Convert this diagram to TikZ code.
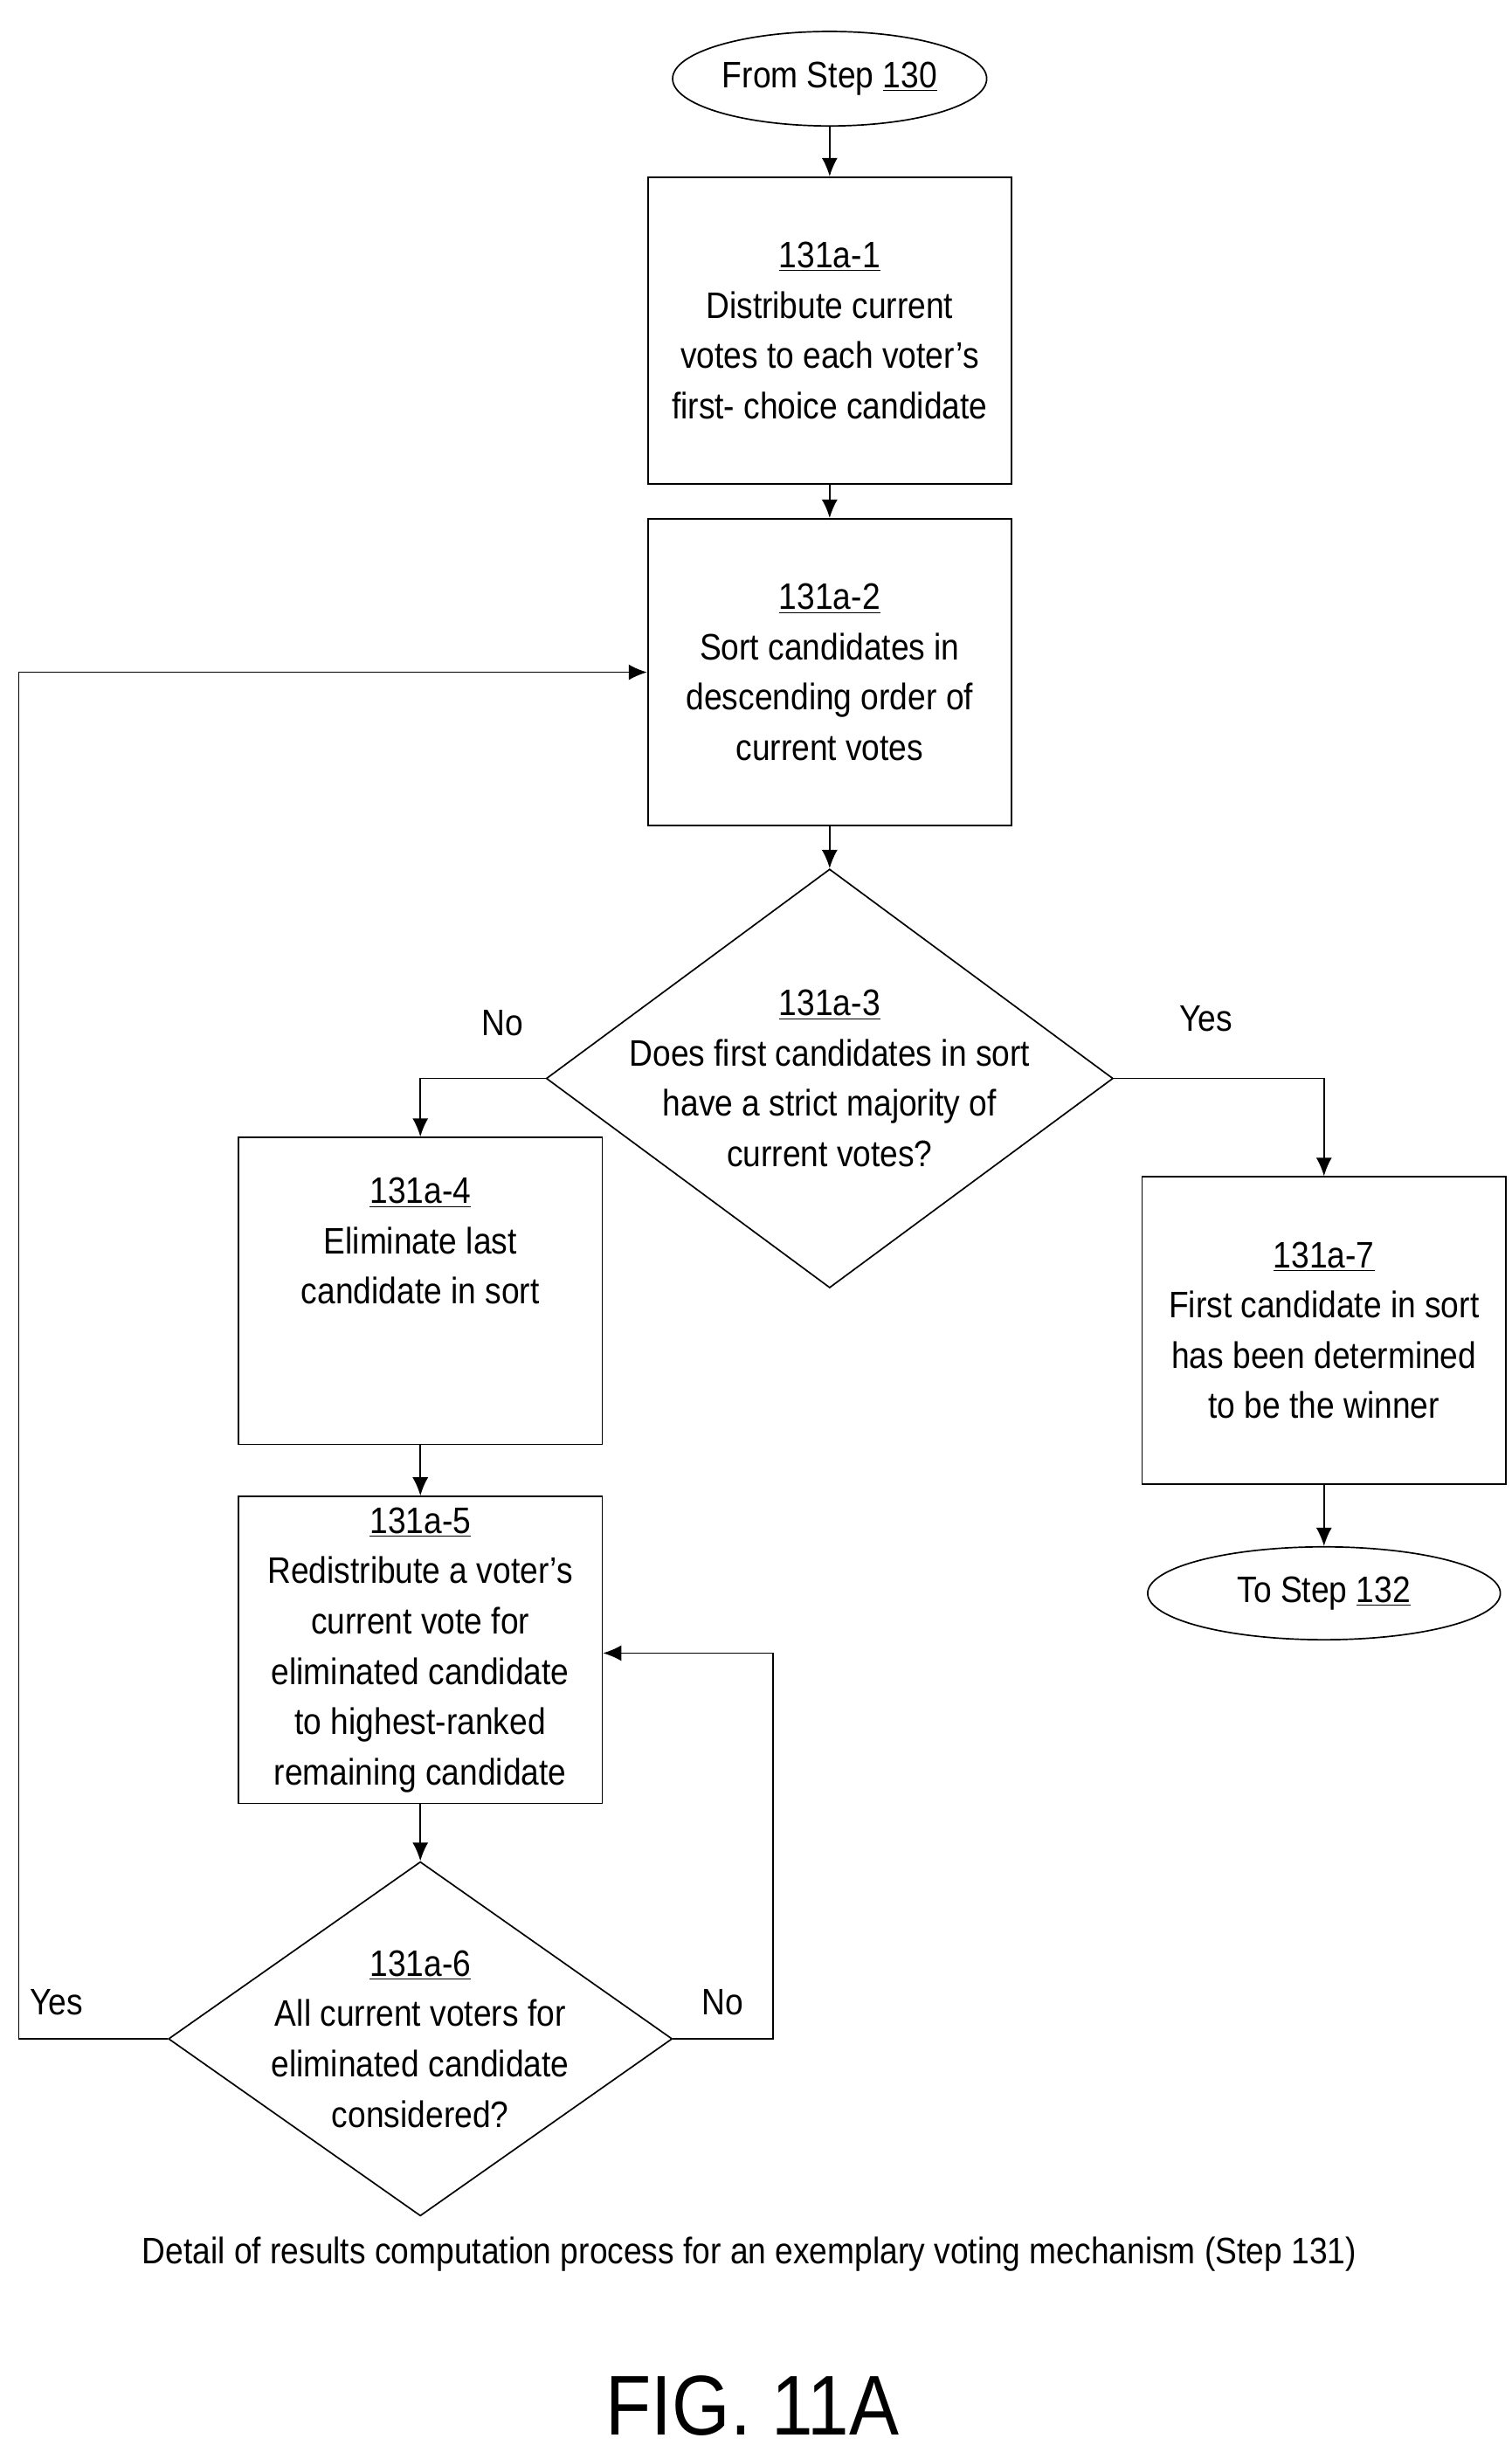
\documentclass[tikz,border=0pt]{standalone}
\usepackage{fontspec}
\setmainfont[FakeStretch=0.88]{Liberation Sans}
\usetikzlibrary{shapes,arrows.meta,positioning}
\begin{document}
\begin{tikzpicture}[x=0.03cm,y=-0.03cm]
            \tikzstyle{base}=[draw,thick,align=center,inner sep=2pt,font=\fontsize{20}{27.3}\selectfont]
            \tikzstyle{proc}=[base,rectangle,minimum width=6.93cm,minimum height=5.85cm]
            \tikzstyle{term}=[base,ellipse]
            \tikzstyle{test}=[draw,thick,diamond,inner sep=0pt]
            \tikzstyle{lbl}=[align=center,font=\fontsize{20}{27.3}\selectfont]
            \tikzstyle{every path}=[thick]
            \tikzstyle{flow}=[-{Latex[length=3.5mm,width=3mm]}]

            \useasboundingbox (0,0) rectangle (960,1553);

            \node[term,minimum width=5.7cm,minimum height=1.8cm] (start) at (527,50) {From Step \underline{130}};
            \node[proc] (a1) at (527,210) {\underline{131a-1}\\Distribute current\\votes to each voter's\\first- choice candidate};
            \node[proc] (a2) at (527,427) {\underline{131a-2}\\Sort candidates in\\descending order of\\current votes};
            \node[test,minimum width=10.8cm,minimum height=7.98cm] (a3) at (527,685) {};
            \node[lbl] (t3) at (527,685) {\underline{131a-3}\\Does first candidates in sort\\have a strict majority of\\current votes?};
            \node[proc] (a4) at (267,820) {\underline{131a-4}\\Eliminate last\\candidate in sort\\[27pt]};
            \node[proc] (a5) at (267,1048) {\underline{131a-5}\\Redistribute a voter's\\current vote for\\eliminated candidate\\to highest-ranked\\remaining candidate};
            \node[test,minimum width=9.6cm,minimum height=6.75cm] (a6) at (267,1295) {};
            \node[lbl] (t6) at (267,1295) {\underline{131a-6}\\All current voters for\\eliminated candidate\\considered?};
            \node[proc] (a7) at (841,845) {\underline{131a-7}\\First candidate in sort\\has been determined\\to be the winner};
            \node[term,minimum width=6.72cm,minimum height=1.77cm] (stop) at (841,1012) {To Step \underline{132}};

            \coordinate (nl) at (267,685);
            \coordinate (yr) at (841,685);
            \coordinate (yl1) at (12,1295);
            \coordinate (yl2) at (12,427);
            \coordinate (nr1) at (491,1295);
            \coordinate (nr2) at (491,1050);

            \draw[flow] (start) -- (a1);
            \draw[flow] (a1) -- (a2);
            \draw[flow] (a2) -- (a3);
            \draw[flow] (a3.west) -- (nl) -- (a4);
            \draw[flow] (a3.east) -- (yr) -- (a7);
            \draw[flow] (a4) -- (a5);
            \draw[flow] (a5) -- (a6);
            \draw[flow] (a7) -- (stop);
            \draw[flow] (a6.west) -- (yl1) -- (yl2) -- (a2.west |- yl2);
            \draw[flow] (a6.east) -- (nr1) -- (nr2) -- (a5.east |- nr2);

            \node[lbl] (no1) at (319,650) {No};
            \node[lbl] (yes1) at (766,647) {Yes};
            \node[lbl] (yes2) at (36,1272) {Yes};
            \node[lbl] (no2) at (459,1272) {No};

            \node[lbl] (cap) at (476,1432) {Detail of results computation process for an exemplary voting mechanism (Step 131)};
            \node[font=\fontsize{46}{50}\selectfont] (fig) at (478,1528) {FIG. 11A};
\end{tikzpicture}
\end{document}
